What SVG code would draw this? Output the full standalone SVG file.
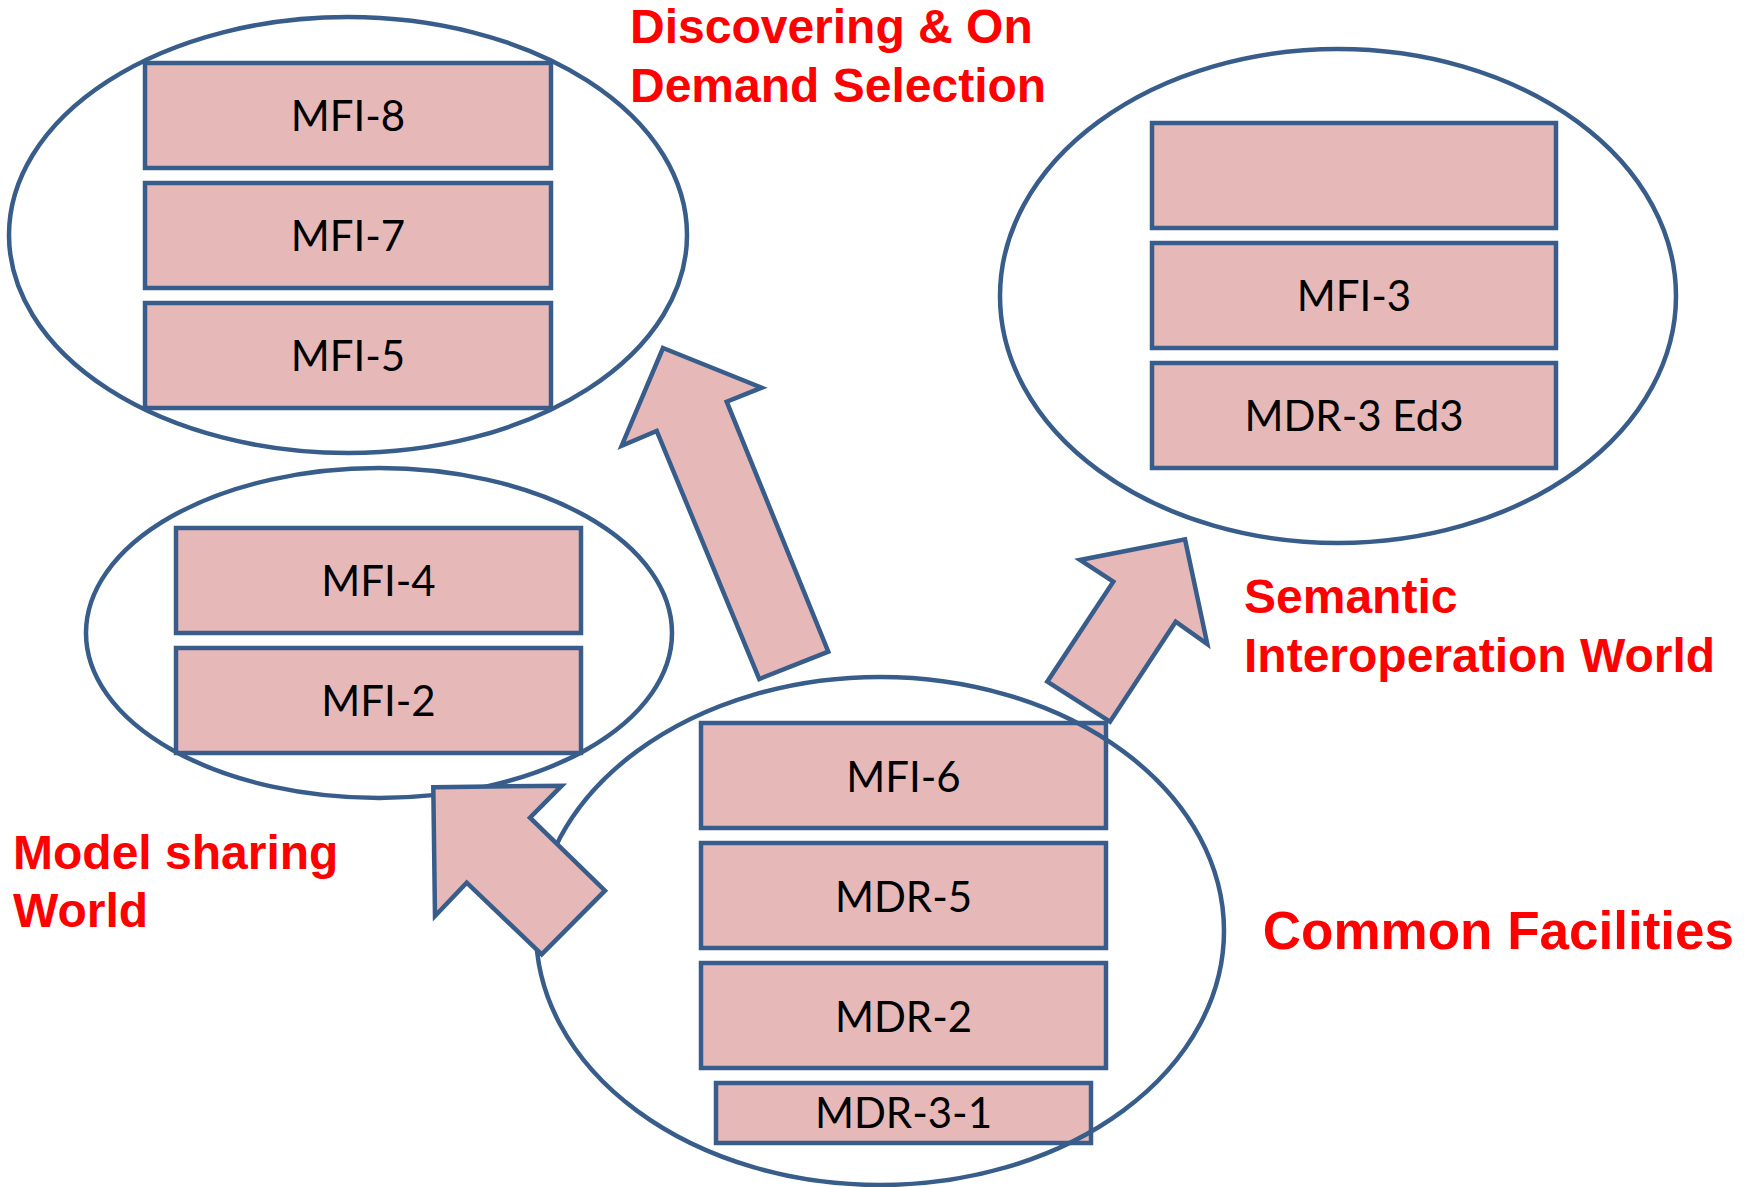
<svg xmlns="http://www.w3.org/2000/svg" width="1754" height="1187" viewBox="0 0 1754 1187">
<style>
.box{fill:#E6B9B8;stroke:#385D8A;stroke-width:4.5}
.ell{fill:none;stroke:#385D8A;stroke-width:4.5}
.arr{fill:#E6B9B8;stroke:#385D8A;stroke-width:4.5;stroke-linejoin:miter}
.t{font-family:Lato,"Open Sans","Liberation Sans",sans-serif;font-size:42px;fill:#000;text-anchor:middle}
.lbl{font-family:"Liberation Sans",Arial,sans-serif;font-weight:bold;font-size:48px;fill:#FF0000}
</style>
<rect width="1754" height="1187" fill="#fff"/>
<g id="discovering-world">
  <g id="mfi-8"><rect class="box" x="145" y="63" width="406" height="105"/><text class="t" x="348" y="131">MFI-8</text></g>
  <g id="mfi-7"><rect class="box" x="145" y="183" width="406" height="105"/><text class="t" x="348" y="251">MFI-7</text></g>
  <g id="mfi-5"><rect class="box" x="145" y="303" width="406" height="105"/><text class="t" x="348" y="371">MFI-5</text></g>
  <ellipse class="ell" cx="348" cy="235" rx="339" ry="218"/>
</g>
<g id="model-sharing-world">
  <g id="mfi-4"><rect class="box" x="176" y="528" width="405" height="105"/><text class="t" x="378.5" y="596">MFI-4</text></g>
  <g id="mfi-2"><rect class="box" x="176" y="648" width="405" height="105"/><text class="t" x="378.5" y="716">MFI-2</text></g>
  <ellipse class="ell" cx="379" cy="633" rx="293" ry="165"/>
</g>
<g id="semantic-world">
  <g id="blank-box"><rect class="box" x="1152" y="123" width="404" height="105"/></g>
  <g id="mfi-3"><rect class="box" x="1152" y="243" width="404" height="105"/><text class="t" x="1354" y="311">MFI-3</text></g>
  <g id="mdr-3-ed3"><rect class="box" x="1152" y="363" width="404" height="105"/><text class="t" x="1354" y="431">MDR-3 Ed3</text></g>
  <ellipse class="ell" cx="1338" cy="296" rx="338" ry="247"/>
</g>
<g id="common-facilities">
  <g id="mfi-6"><rect class="box" x="701" y="723" width="405" height="105"/><text class="t" x="903.5" y="792">MFI-6</text></g>
  <g id="mdr-5"><rect class="box" x="701" y="843" width="405" height="105"/><text class="t" x="903.5" y="912">MDR-5</text></g>
  <g id="mdr-2"><rect class="box" x="701" y="963" width="405" height="105"/><text class="t" x="903.5" y="1032">MDR-2</text></g>
  <g id="mdr-3-1"><rect class="box" x="716" y="1083" width="375" height="60"/><text class="t" x="903.5" y="1128">MDR-3-1</text></g>
  <ellipse class="ell" cx="880" cy="931" rx="344" ry="254"/>
</g>
<g id="connectors">
  <polygon class="arr" points="663,348 761.7,387.7 726.7,401.7 828.3,651.7 759.3,679 656.7,431 621.7,445.7"/>
  <polygon class="arr" points="1185,539.3 1207.3,644 1175.7,621.7 1110,721.7 1047.3,681.7 1113.3,581.7 1080,560"/>
  <polygon class="arr" points="433.3,787.3 561.7,785.7 530,817.7 605,890.7 541.7,954.3 466.7,882.7 435,916"/>
</g>
<g id="labels">
  <text class="lbl" x="630" y="43">Discovering &amp; On</text>
  <text class="lbl" x="630" y="102">Demand Selection</text>
  <text class="lbl" x="1244" y="613">Semantic</text>
  <text class="lbl" x="1244" y="672">Interoperation World</text>
  <text class="lbl" x="13" y="869">Model sharing</text>
  <text class="lbl" x="13" y="927">World</text>
  <text class="lbl" x="1734" y="949" style="font-size:53px;text-anchor:end">Common Facilities</text>
</g>
</svg>
